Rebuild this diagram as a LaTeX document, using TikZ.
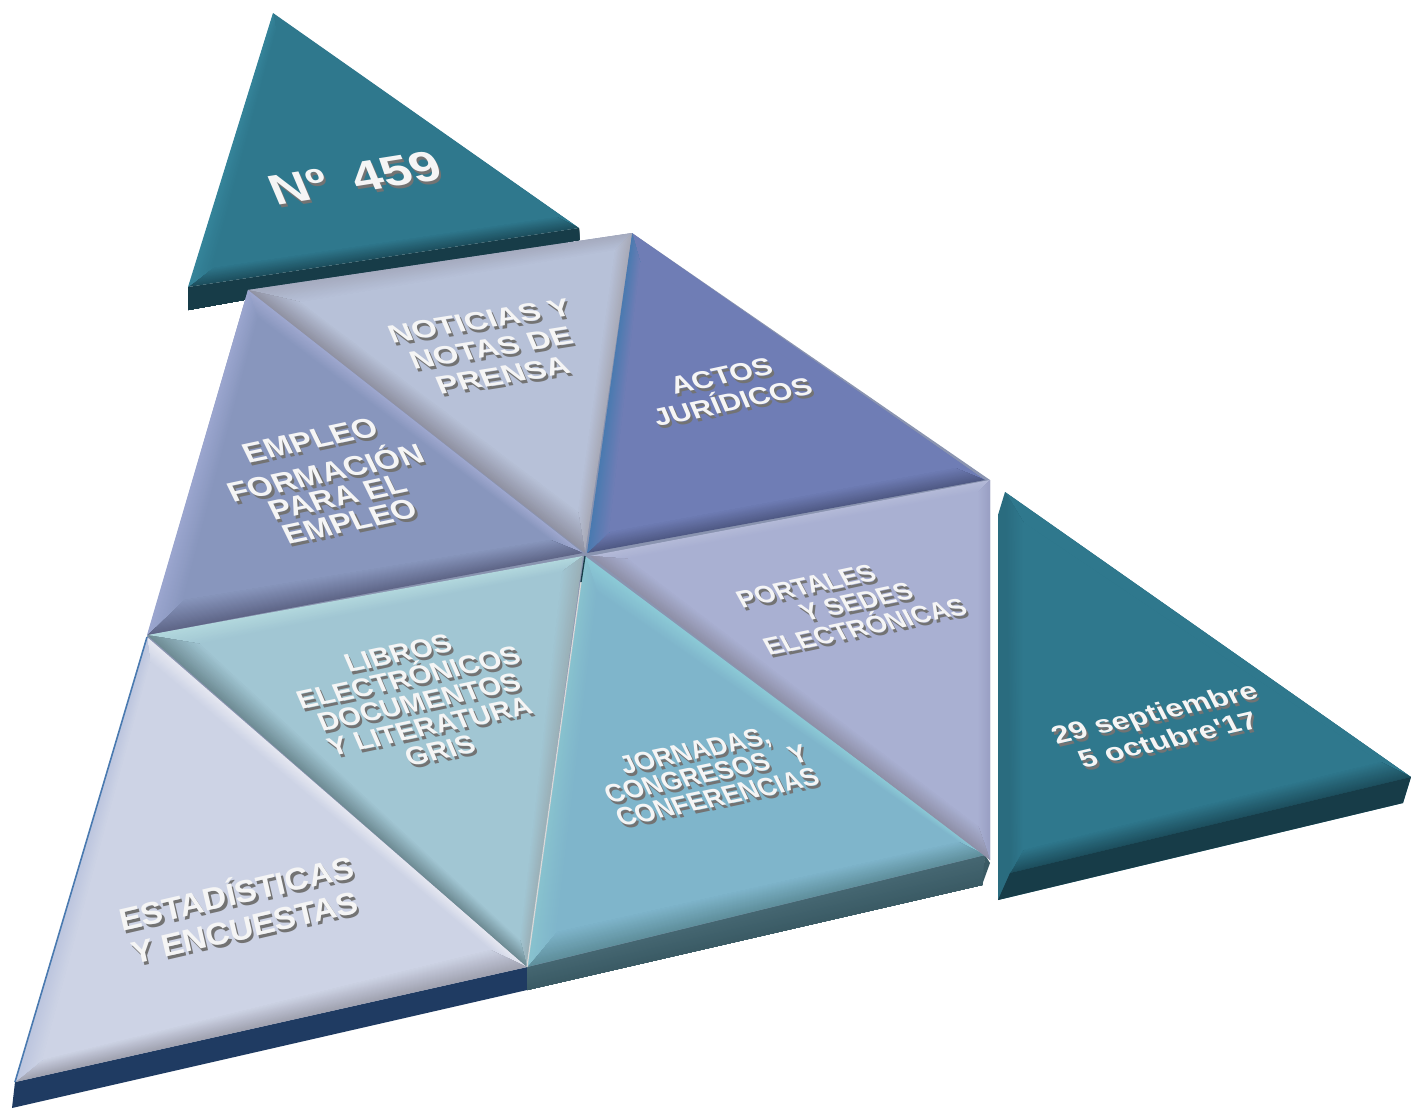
\documentclass[tikz,border=0pt]{standalone}
\usepackage{fontspec}
\setmainfont[Ligatures=TeXOff]{Liberation Sans}
\usetikzlibrary{calc}
\newcommand\hexc[2]{\definecolor{#1}{HTML}{#2}}
\hexc{teal}{2F788D}\hexc{tealL}{35849A}\hexc{tealM}{1D4F5E}\hexc{tealD}{173C48}\hexc{tealS}{2A6C7F}
\hexc{navy}{1F3B62}\hexc{navyL}{27487A}
\hexc{stF}{CDD3E5}\hexc{stB}{A0A2B0}\hexc{stT}{E6E8F1}\hexc{stL}{BCC5DE}
\hexc{liF}{A1C6D3}\hexc{liT}{B2D8DD}\hexc{liR}{9AB0B8}\hexc{liL}{6F8C95}
\hexc{joF}{7FB5CB}\hexc{joA}{8CCAD6}\hexc{joB}{5F8F9C}\hexc{joL}{88C2CE}\hexc{joS}{466873}\hexc{joD}{3A5A64}
\hexc{poF}{A9B0D2}\hexc{poT}{B4BAD8}\hexc{poR}{9AA0C4}\hexc{poL}{8F90A8}
\hexc{acF}{6F7DB5}\hexc{acB}{505A85}\hexc{acL}{4A7AB0}
\hexc{noF}{B7C1D8}\hexc{noT}{A5ABBF}\hexc{noR}{A8AAB8}\hexc{noL}{9092A3}
\hexc{emF}{8896BD}\hexc{emR}{9FA8CF}\hexc{emB}{5F6688}\hexc{emL}{9BA6CF}
\hexc{back}{8A94B0}
\newcommand\bevstrip[6]{%
  \foreach \ii in {1,...,24}{%
    \pgfmathsetmacro\ta{(\ii-1)/24}%
    \pgfmathtruncatemacro\pc{100*\ta}%
    \colorlet{mc}{#6!\pc!#5}%
    \fill[mc] ($(#1)!\ta!(#4)$) -- ($(#2)!\ta!(#3)$) -- (#3) -- (#4) -- cycle;
  }%
}
% \tri{A}{B}{C}{Ai}{Bi}{Ci}{face}{AB out}{BC out}{CA out}
\newcommand\tri[9]{\colorlet{ff}{#7}\colorlet{oa}{#8}\colorlet{ob}{#9}\tricont{#1}{#2}{#3}{#4}{#5}{#6}}
\newcommand\tricont[7]{%
  \colorlet{oc}{#7}%
  \bevstrip{#1}{#2}{#5}{#4}{oa}{ff}%
  \bevstrip{#2}{#3}{#6}{#5}{ob}{ff}%
  \bevstrip{#3}{#1}{#4}{#6}{oc}{ff}%
  \fill[ff] (#4) -- (#5) -- (#6) -- cycle;
}
\newcommand\lbl[5]{%
  \node[lblback,#4] at ([shift={(2.2,3)}]#2,#3) {#5};
  \node[lblfront,#4] (#1) at (#2,#3) {#5};
}
\newcommand\pad[1]{\rule{#1}{0pt}}
\tikzset{
  x=0.75pt,y=-0.75pt,
  lblfront/.style={text=white!96!black,font=\bfseries\fontsize{24}{27}\selectfont,align=center,inner sep=0pt,transform shape},
  lblback/.style={lblfront,text=black!55},
}
\begin{document}
\begin{tikzpicture}
\useasboundingbox (0,0) rectangle (1411,1108);
\fill[white] (0,0) rectangle (1411,1108);
% top teal triangle
\bevstrip{188,287}{579,228}{579,240}{188,310}{tealD}{tealD}
\tri{273,13}{579,228}{188,287}{276,32}{556,217}{212,268}{teal}{teal}{tealM}{tealL}
% date teal triangle
\fill[tealS] (998,515) -- (1005,492) -- (1411,777) -- (1403,803) -- (998,900) -- cycle;
\tri{1005,492}{1411,777}{1010,873}{1023,522}{1380,762}{1023,850}{teal}{teal}{tealM}{tealS}
\fill[tealD] (998,900) -- (1010,873) -- (1411,777) -- (1403,803) -- cycle;
% side faces
\fill[navy] (15,1082) -- (527,967) -- (527,990) -- (12,1108) -- cycle;
\bevstrip{527,965}{985,853}{982,885}{527,990}{joS}{joD}
\fill[joD] (985,855) -- (990,863) -- (982,885) -- cycle;
% backing behind the mosaic
\fill[back] (248,290) -- (632,233) -- (990,480) -- (990,860) -- (985,855) -- (527,967) -- (15,1082) -- (147,637) -- cycle;
% estadisticas
\tri{147,637}{527,967}{15,1082}{150,662}{490,950}{42,1060}{stF}{stT}{stB}{stL}
\draw[acL,line width=1.2pt] (147,637) -- (15,1082);
% libros
\tri{147,635}{583,556}{527,967}{200,644}{562,572}{520,940}{liF}{liT}{liR}{liL}
% jornadas
\tri{585,556}{985,855}{527,967}{597,592}{958,842}{556,932}{joF}{joA}{joB}{joL}
\draw[black!15,line width=.9pt] (527,967) -- (581,582);
\draw[tealD,line width=1pt] (581,582) -- (585,556);
% portales
\tri{590,556}{990,480}{990,860}{628,559}{978,492}{978,826}{poF}{poT}{poR}{poL}
% actos
\tri{632,233}{985,480}{587,553}{640,262}{955,468}{609,532}{acF}{acF}{acB}{acL}
% noticias
\tri{248,290}{632,233}{585,553}{300,302}{615,250}{578,512}{noF}{noT}{noR}{noL}
% empleo
\tri{248,290}{583,553}{147,635}{258,318}{550,540}{183,600}{emF}{emR}{emB}{emL}
% labels
\lbl{numero}{355}{178}{rotate=9,xslant=-.25,xscale=1.66,yscale=1.35}{Nº\ \ \kern-2pt 459}
\lbl{fecha}{1161}{726}{rotate=13,xslant=-.25,xscale=.97,yscale=.8}{29 septiembre\\5 octubre'17}
\lbl{noticias}{491}{348}{rotate=9,xslant=-.25,yscale=.8}{NOTICIAS Y\\NOTAS DE\\PRENSA}
\lbl{actos}{727}{389}{rotate=12,xslant=-.2,xscale=.92,yscale=.78}{ACTOS\\JURÍDICOS}
\lbl{empleo}{330}{481}{rotate=12,xslant=-.25,yscale=.88}{EMPLEO\\[2.8pt]FORMACIÓN\\[-4.5pt]PARA EL\\[-4.5pt]EMPLEO}
\lbl{portales}{852}{603}{rotate=12,xslant=-.3,xscale=.81,yscale=.78}{PORTALES\pad{62pt}\\[-2pt]\pad{8pt}Y SEDES\\[-2pt]ELECTRÓNICAS}
\lbl{libros}{419}{702}{rotate=12,xslant=-.2,xscale=.89,yscale=.82}{LIBROS\\[-3.2pt]ELECTRÓNICOS\\[-3.2pt]DOCUMENTOS\\[-3.2pt]Y LITERATURA\\[-3.2pt]GRIS}
\lbl{jornadas}{706}{774}{rotate=12,xslant=-.25,xscale=.8,yscale=.82}{JORNADAS,\\[-4pt]CONGRESOS\ \ \ Y\\[-4pt]CONFERENCIAS}
\lbl{estadisticas}{240}{908}{rotate=13,xscale=1.03,yscale=.98}{ESTADÍSTICAS\\Y ENCUESTAS}
\end{tikzpicture}
\end{document}
